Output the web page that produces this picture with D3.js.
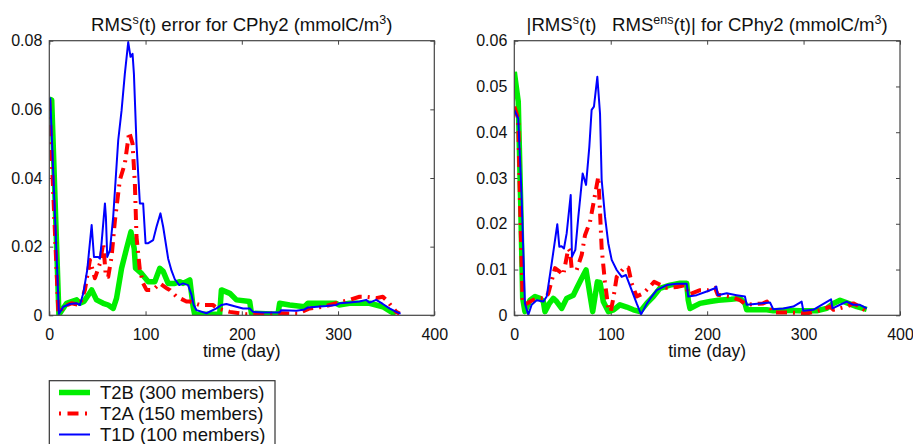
<!DOCTYPE html>
<html>
<head>
<meta charset="utf-8">
<script src="https://cdn.jsdelivr.net/npm/d3@7"></script>
<style>
  body { margin: 0; background: #fff; }
  svg { display: block; font-family: "Liberation Sans", Arial, Helvetica, sans-serif; }
</style>
</head>
<body>
<div id="vis"></div>
<script>
// ---- data: [day, value] ----
var xTicks = [0, 100, 200, 300, 400];
var leftYTicks = [0, 0.02, 0.04, 0.06, 0.08];
var rightYTicks = [0, 0.01, 0.02, 0.03, 0.04, 0.05, 0.06];
var seriesNames = ["T2B (300 members)", "T2A (150 members)", "T1D (100 members)"];

// left panel: RMS error
var leftT2B = [[0,0.063],[2.5,0.0627],[10,0.0002],[18,0.0035],[23,0.004],[28.4,0.0045],[31.8,0.0035],[36,0.004],[44,0.0074],[49,0.0045],[56,0.0035],[61.2,0.003],[66.4,0.002],[69.9,0.005],[75.1,0.0137],[80.3,0.0195],[84.8,0.0243],[88.2,0.0195],[89.6,0.0137],[95.8,0.0122],[102.8,0.0098],[109.6,0.0098],[114.8,0.0137],[118.3,0.0128],[123.5,0.0093],[130.4,0.0093],[135.6,0.0098],[139,0.0093],[146,0.0103],[149.4,0.0025],[151,0.0003],[177,0.0003],[178.8,0.0074],[187.5,0.0064],[194.4,0.0045],[208.2,0.004],[210,0.0006],[237.6,0.0003],[239.3,0.0035],[249.7,0.003],[265.2,0.0025],[268.7,0.0035],[298,0.0035],[301,0.003],[312,0.0035],[332.7,0.0035],[346.5,0.0025],[355.2,0.001],[360,0.0003]];
var leftT2A = [[0,0.0627],[9.3,0.0015],[10.5,0.0006],[14.5,0.0025],[23,0.0035],[31.8,0.003],[37,0.0074],[42.2,0.0161],[47.4,0.0108],[52.6,0.0151],[56,0.021],[58.8,0.0112],[61.2,0.0112],[64.7,0.017],[68.2,0.0277],[73.3,0.0394],[78.5,0.0442],[83,0.0534],[86.5,0.05],[88.9,0.0384],[90.6,0.0229],[94.1,0.0132],[97.5,0.0093],[101,0.0074],[107.9,0.0074],[114.8,0.0093],[121.8,0.0079],[125.2,0.0074],[132.2,0.0054],[135.6,0.005],[142.5,0.004],[146,0.004],[156.3,0.003],[170,0.003],[175,0.002],[187.5,0.001],[204.8,0.0003],[220,0.0003],[235.9,0.0006],[258,0.0005],[270.4,0.002],[284.3,0.0025],[298,0.0035],[312,0.0045],[322.3,0.0054],[329.2,0.0054],[339.6,0.005],[346.5,0.0054],[351.7,0.004],[360.4,0.001],[364,0.0005]];
var leftT1D = [[0,0.063],[1,0.0632],[10,0.0004],[14.5,0.0025],[21.5,0.0033],[28.4,0.0035],[31.8,0.003],[35.3,0.0064],[39.4,0.0132],[44,0.0263],[46.4,0.017],[50.9,0.017],[52.6,0.0165],[54.3,0.021],[57.8,0.0326],[58.8,0.0287],[60.2,0.017],[63,0.019],[66.4,0.0287],[71.6,0.051],[75.1,0.0597],[78.5,0.0704],[82,0.0796],[84.4,0.0753],[86.5,0.0762],[87.9,0.0704],[90.6,0.05],[94.1,0.0326],[97.5,0.0326],[100,0.021],[102.8,0.021],[107.9,0.0219],[111.4,0.0258],[115.5,0.0297],[118.3,0.0258],[123.5,0.0165],[127,0.013],[130.4,0.0105],[135,0.0088],[139,0.0093],[144.2,0.0088],[147.7,0.006],[150,0.003],[153,0.0015],[163.3,0.0006],[173.7,0.002],[178.8,0.003],[184,0.0033],[194.4,0.0025],[201.3,0.002],[208.2,0.002],[211.6,0.001],[222,0.0008],[239.3,0.0008],[241,0.0015],[249.7,0.0014],[256.6,0.0013],[265.2,0.0017],[268.7,0.0023],[287.7,0.0027],[298,0.003],[301.6,0.0035],[312,0.0037],[322.3,0.004],[329.2,0.0045],[332.7,0.0037],[339.6,0.0045],[346.5,0.0033],[353.4,0.002],[362,0.0008],[365,0.0005]];

// right panel: |RMS - RMS ens|
var rightT2B = [[0,0.0532],[4.1,0.0467],[6.6,0.0248],[8.7,0.0037],[11,0.0008],[16.3,0.0033],[21.5,0.0041],[26.6,0.0037],[30.1,0.003],[31.8,0.0008],[36,0.0025],[40.4,0.0037],[43.9,0.003],[49.1,0.0015],[54.3,0.0037],[61.2,0.0044],[64.7,0.0059],[69.9,0.0081],[74.4,0.0099],[78.5,0.0044],[81.3,0.0008],[86.1,0.0073],[88.9,0.0072],[92.3,0.003],[97.5,0.0008],[103,0.0012],[109.6,0.0023],[116.6,0.0018],[123.5,0.0012],[130.4,0.0008],[137.3,0.0026],[144.2,0.0041],[151,0.0059],[161.5,0.0066],[171.8,0.007],[178.8,0.007],[180.4,0.0033],[182.2,0.0015],[192.6,0.0026],[203,0.003],[211.6,0.0033],[225,0.0035],[234,0.0037],[239.2,0.0026],[241,0.0012],[261.7,0.0012],[268.6,0.001],[282.5,0.0011],[296.3,0.001],[313.6,0.001],[324,0.0015],[330.8,0.0026],[337.8,0.0033],[346.4,0.0026],[355.2,0.0019],[365.5,0.0013]];
var rightT2A = [[0,0.0456],[4.1,0.043],[5.9,0.0248],[8.7,0.003],[11,0.0023],[16.3,0.003],[23.2,0.0037],[31.8,0.0037],[35.3,0.0048],[42.2,0.0103],[47.4,0.0095],[50.8,0.0088],[56,0.0146],[57.8,0.014],[59.5,0.0103],[64.7,0.0099],[69.9,0.0132],[73.3,0.0175],[78.5,0.0204],[83.7,0.0263],[87.1,0.0303],[88.9,0.0226],[90.6,0.0146],[94,0.0073],[97.5,0.0015],[100,0.0008],[103,0.0041],[106.2,0.0084],[114.8,0.0106],[118.3,0.0104],[121.7,0.007],[126.9,0.0041],[133.8,0.0048],[140.7,0.0063],[145,0.0073],[158,0.006],[168.4,0.0062],[178,0.0066],[180.5,0.0045],[192.6,0.0055],[201,0.0055],[208.1,0.006],[211,0.0045],[223.7,0.0041],[234,0.0033],[241,0.0023],[258,0.0026],[262,0.003],[268.6,0.0006],[285.9,0.0006],[303,0.0004],[317,0.0011],[327.4,0.0019],[331,0.0012],[344.7,0.0019],[351.6,0.0026],[358.5,0.0019],[364,0.001]];
var rightT1D = [[0,0.0449],[4.1,0.043],[7.6,0.0259],[11,0.0026],[14.5,0.0001],[18,0.0023],[23.2,0.0033],[30.1,0.003],[33.6,0.0041],[38.8,0.0114],[44.6,0.0199],[46.7,0.015],[49,0.0151],[51.5,0.0146],[54.3,0.0179],[58.5,0.0263],[59.8,0.0128],[63.3,0.0143],[66.4,0.0215],[70.9,0.031],[74.4,0.0285],[77.8,0.0368],[80.2,0.0449],[82.6,0.0456],[86.1,0.0521],[88.9,0.0441],[90.6,0.0296],[94.1,0.0215],[97.5,0.0157],[101,0.0121],[106.2,0.0099],[111.4,0.0084],[115.8,0.0088],[121.7,0.0055],[126.9,0.0026],[131.5,0.0002],[137.3,0.0025],[142.5,0.0041],[147.7,0.0055],[158,0.0066],[168.4,0.0069],[178.8,0.0069],[180.4,0.0041],[189.1,0.0044],[199.5,0.0052],[208.1,0.0059],[209.5,0.0063],[211,0.0044],[220.3,0.0048],[230.6,0.0044],[239.2,0.0041],[241,0.0023],[254.8,0.0026],[265.2,0.0028],[268.6,0.0013],[279,0.0015],[289.3,0.0019],[298,0.003],[299.7,0.001],[310,0.0012],[318.8,0.0023],[328.5,0.0035],[330,0.0015],[337.8,0.0023],[344.7,0.003],[351.6,0.0023],[358.5,0.0023],[365.5,0.0015]];

// title pieces: [text, superscript?]
var leftTitle = [["RMS", false], ["s", true], ["(t) error for CPhy2 (mmolC/m", false], ["3", true], [")", false]];
var rightTitle = [["|RMS", false], ["s", true], ["(t)\u00a0\u00a0\u00a0RMS", false], ["ens", true], ["(t)| for CPhy2 (mmolC/m", false], ["3", true], [")", false]];

// line styles (green first, blue on top, like the original plot order)
var styles = [
  {color: "#00ee00", width: 5.5, dash: null},
  {color: "#ff0000", width: 4, dash: "11,6,2,6"},
  {color: "#0000ff", width: 2, dash: null}
];

var W = 913, H = 444;
var svg = d3.select("#vis").append("svg")
    .attr("width", W)
    .attr("height", H);

var plotTop = 40.7, plotBottom = 315.3;

function drawPanel(id, left, right, yMax, yTicks, title, series) {
  var x = d3.scaleLinear().domain([0, 400]).range([left, right]);
  var y = d3.scaleLinear().domain([0, yMax]).range([plotBottom, plotTop]);

  svg.append("clipPath").attr("id", "clip" + id)
    .append("rect")
      .attr("x", left).attr("y", plotTop)
      .attr("width", right - left).attr("height", plotBottom - plotTop);

  var fmt = function(d) { return d === 0 ? "0" : d3.format(".2f")(d); };

  // x axis (inward ticks, mirrored on top)
  svg.append("g")
      .attr("transform", "translate(0," + plotBottom + ")")
      .call(d3.axisBottom(x).tickValues(xTicks).tickSizeInner(-4).tickSizeOuter(0).tickPadding(13).tickFormat(d3.format("d")));
  svg.append("g")
      .attr("transform", "translate(0," + plotTop + ")")
      .call(d3.axisTop(x).tickValues(xTicks).tickSizeInner(-4).tickSizeOuter(0).tickFormat(""));

  // y axis (mirrored on the right)
  svg.append("g")
      .attr("transform", "translate(" + left + ",0)")
      .call(d3.axisLeft(y).tickValues(yTicks).tickSizeInner(-4).tickSizeOuter(0).tickPadding(7).tickFormat(fmt));
  svg.append("g")
      .attr("transform", "translate(" + right + ",0)")
      .call(d3.axisRight(y).tickValues(yTicks).tickSizeInner(-4).tickSizeOuter(0).tickFormat(""));

  svg.selectAll(".domain").remove();
  svg.selectAll(".tick line").attr("stroke", "#444");
  svg.selectAll(".tick text").attr("font-size", 16).attr("fill", "#111")
      .attr("font-family", "'Liberation Sans', Arial, sans-serif");

  // lines
  var line = d3.line()
      .x(function(d) { return x(d[0]); })
      .y(function(d) { return y(d[1]); });

  var plot = svg.append("g").attr("clip-path", "url(#clip" + id + ")");
  series.forEach(function(s, i) {
    plot.append("path")
      .attr("d", line(s))
      .attr("fill", "none")
      .attr("stroke", styles[i].color)
      .attr("stroke-width", styles[i].width)
      .attr("stroke-linejoin", "round")
      .attr("stroke-dasharray", styles[i].dash);
  });

  // box
  svg.append("rect")
      .attr("x", left).attr("y", plotTop)
      .attr("width", right - left).attr("height", plotBottom - plotTop)
      .attr("fill", "none")
      .attr("stroke", "#444")
      .attr("stroke-width", 1.2);

  // title with superscripts
  var t = svg.append("text")
      .attr("x", (left + right) / 2)
      .attr("y", 31)
      .attr("text-anchor", "middle")
      .attr("font-size", 18.6)
      .attr("fill", "#111");
  var up = false;
  title.forEach(function(p) {
    var ts = t.append("tspan").text(p[0]);
    if (p[1] && !up) { ts.attr("dy", -7).attr("font-size", 12.5); up = true; }
    else if (p[1]) { ts.attr("font-size", 12.5); }
    else if (up) { ts.attr("dy", 7); up = false; }
  });

  // x label
  svg.append("text")
      .attr("x", (left + right) / 2)
      .attr("y", 357)
      .attr("text-anchor", "middle")
      .attr("font-size", 17.5)
      .attr("fill", "#111")
      .text("time (day)");
}

drawPanel("L", 49.3, 434.3, 0.08, leftYTicks, leftTitle, [leftT2B, leftT2A, leftT1D]);
drawPanel("R", 514.3, 900, 0.06, rightYTicks, rightTitle, [rightT2B, rightT2A, rightT1D]);

// legend
var legend = svg.append("g");
legend.append("rect")
    .attr("x", 49.3).attr("y", 380.7)
    .attr("width", 275 - 49.3).attr("height", 80)
    .attr("fill", "#fff")
    .attr("stroke", "#333")
    .attr("stroke-width", 1.2);

seriesNames.forEach(function(name, i) {
  var cy = 392.5 + i * 21;
  legend.append("line")
      .attr("x1", 59).attr("x2", 90)
      .attr("y1", cy).attr("y2", cy)
      .attr("stroke", styles[i].color)
      .attr("stroke-width", styles[i].width)
      .attr("stroke-dasharray", i === 1 ? "2,6.5,11,6.5" : null);
  legend.append("text")
      .attr("x", 100).attr("y", cy + 6.5)
      .attr("font-size", 18.5)
      .attr("fill", "#111")
      .text(name);
});
</script>
</body>
</html>
